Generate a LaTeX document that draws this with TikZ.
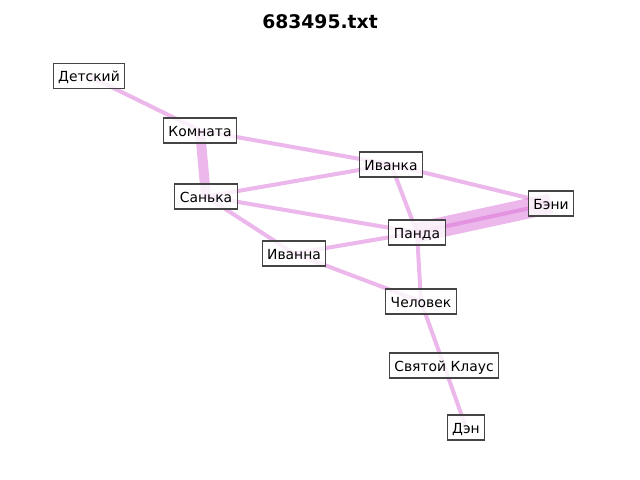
\documentclass[tikz,border=0pt]{standalone}
\usepackage{fontspec}
\setmainfont{DejaVu Sans}
\usetikzlibrary{backgrounds}
\definecolor{edgecol}{RGB}{218,112,214}
\definecolor{boxborder}{RGB}{68,68,68}
\tikzset{
  lbl/.style={draw=boxborder, line width=0.8pt, fill=white, fill opacity=0.8, text opacity=1,
    font=\fontsize{10pt}{12pt}\selectfont, inner xsep=3.6pt, inner ysep=0pt,
    minimum height=18pt, text height=9pt, text depth=0.5pt},
  edge/.style={edgecol, opacity=0.5, line width=2.9pt},
  thickedge/.style={edgecol, opacity=0.5, line width=7.2pt},
  bandedge/.style={edgecol, opacity=0.5, line width=14.5pt},
}
\begin{document}
\begin{tikzpicture}[x=0.72pt, y=-0.72pt]
\useasboundingbox (0,0) rectangle (640,480);
\node[font=\bfseries\fontsize{13.5pt}{16pt}\selectfont, inner sep=0pt] (title) at (320,22) {683495.txt};
\node[lbl] (det) at (89,76) {Детский};
\node[lbl] (kom) at (200,130.5) {Комната};
\node[lbl] (ivka) at (391,164.5) {Иванка};
\node[lbl] (san) at (206,196.5) {Санька};
\node[lbl] (ben) at (551,203.5) {Бэни};
\node[lbl] (pan) at (417,232.5) {Панда};
\node[lbl] (ivna) at (294,253.5) {Иванна};
\node[lbl] (che) at (421,301.5) {Человек};
\node[lbl] (svk) at (444,365.5) {Святой Клаус};
\node[lbl] (den) at (466,427.5) {Дэн};
\begin{scope}[on background layer]
\draw[edge] (det.center) -- (kom.center);
\draw[edge] (kom.center) -- (ivka.center);
\draw[thickedge] (kom.center) -- (san.center);
\draw[edge] (san.center) -- (ivka.center);
\draw[edge] (san.center) -- (pan.center);
\draw[edge] (san.center) -- (ivna.center);
\draw[edge] (ivka.center) -- (ben.center);
\draw[edge] (ivka.center) -- (pan.center);
\draw[bandedge] (pan.center) -- (ben.center);
\draw[edge] (pan.center) -- (ben.center);
\draw[edge] (ivna.center) -- (pan.center);
\draw[edge] (ivna.center) -- (che.center);
\draw[edge] (pan.center) -- (che.center);
\draw[edge] (che.center) -- (svk.center);
\draw[edge] (svk.center) -- (den.center);
\end{scope}
\end{tikzpicture}
\end{document}
